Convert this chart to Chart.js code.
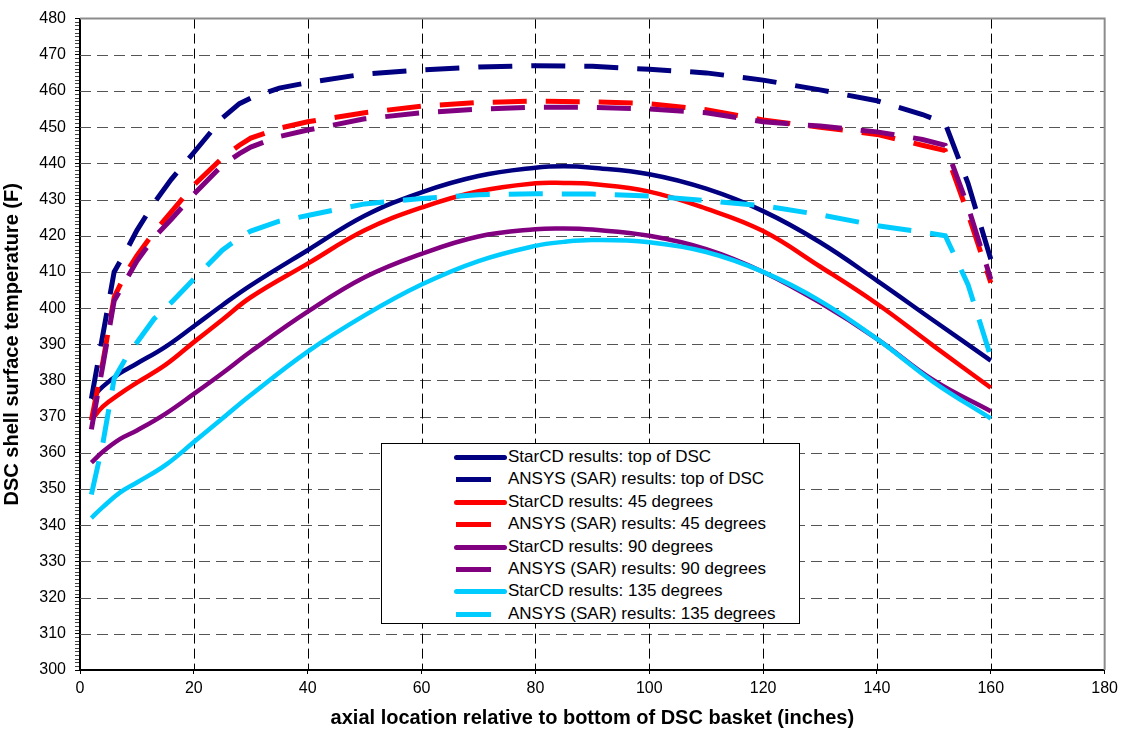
<!DOCTYPE html>
<html>
<head>
<meta charset="utf-8">
<title>DSC shell surface temperature</title>
<script src="https://cdn.jsdelivr.net/npm/chart.js@4.4.0/dist/chart.umd.min.js"></script>
<style>
  html, body { margin: 0; padding: 0; background: #fff; }
  #wrap { position: relative; width: 1123px; height: 734px; }
  #legend {
    position: absolute; left: 381px; top: 443px; width: 419px; height: 181px;
    box-sizing: border-box; border: 1px solid #000; background: #fff;
    font-family: "Liberation Sans", Arial, sans-serif; font-size: 17px; color: #000;
  }
  .item { position: absolute; left: 0; height: 22px; width: 100%; }
  .swatch { position: absolute; top: 9px; height: 5px; }
  .label { position: absolute; left: 126px; top: 1px; white-space: nowrap; line-height: 20px; }
</style>
</head>
<body>
<div id="wrap">
  <canvas id="chart" width="1123" height="734"></canvas>
  <div id="legend"></div>
</div>
<script>
// x positions (inches) for the StarCD curves and the ANSYS curves
const starX = [2, 4, 7, 10, 15, 20, 25, 30, 40, 50, 60, 70, 80, 85, 90, 100, 110, 120, 130, 140, 150, 160];
const ansysX = [2, 4, 6, 8, 10, 13, 16, 20, 25, 28, 30, 35, 40, 50, 60, 70, 80, 90, 100, 110, 120, 130, 140, 148, 152, 156, 160];

// StarCD results (F)
const starTop = [375, 378.3, 382, 384.7, 389.3, 395, 400.8, 406.3, 416, 425.5, 432, 436.5, 438.8, 439.2, 438.8, 437, 433, 426.8, 418.2, 407.6, 396.5, 385.5];
const star45 = [369, 372.8, 376.3, 379.4, 384.3, 390.6, 396.8, 403, 412.3, 421.5, 427.8, 432.3, 434.5, 434.6, 434.3, 432.2, 427.5, 421.3, 411.5, 401.2, 389.5, 378];
const star90 = [357.3, 360.3, 363.8, 366.2, 370.8, 376.3, 382, 388, 399, 408.5, 415, 419.8, 421.8, 422, 421.7, 420, 416.3, 410, 401.5, 391.5, 380, 371.5];
const star135 = [342, 345, 349, 351.8, 356.6, 363, 369.5, 376, 388, 398, 406.5, 413, 417.2, 418.3, 418.8, 418.2, 415.5, 410, 402, 391.5, 379.5, 369.5];

// ANSYS (SAR) results (F)
const ansysTop = [375, 392.5, 410, 415.5, 421.5, 429, 435.5, 443, 452.5, 456.5, 458, 460.8, 462.3, 464.7, 465.8, 466.6, 467, 466.8, 466, 465, 463, 460.3, 457.3, 453.5, 451, 434.5, 413.5];
const ansys45 = [369, 385, 403, 409.5, 414.5, 421, 426.5, 434, 441.5, 445, 447, 449.7, 451.5, 454, 455.8, 456.8, 457.2, 457, 456.5, 454.8, 452, 450, 448, 445, 443.5, 426, 407];
const ansys90 = [366.5, 384, 402, 407.5, 413, 419.5, 424.5, 431.5, 439.5, 442.7, 444.5, 447.4, 449.2, 452.3, 454, 455, 455.5, 455.5, 455, 454, 451.5, 450.3, 448.7, 446.6, 445, 428, 408];
const ansys135 = [348.5, 362.5, 380.5, 386, 390.5, 397, 401.5, 408, 416, 419.5, 421.3, 424, 425.6, 428.8, 430.3, 431.3, 431.6, 431.5, 431, 429.7, 428.3, 425.8, 422.8, 421, 420, 406.5, 386.5];

const seriesLabels = [
  "StarCD results: top of DSC",
  "ANSYS (SAR) results: top of DSC",
  "StarCD results: 45 degrees",
  "ANSYS (SAR) results: 45 degrees",
  "StarCD results: 90 degrees",
  "ANSYS (SAR) results: 90 degrees",
  "StarCD results: 135 degrees",
  "ANSYS (SAR) results: 135 degrees",
];
const seriesColors = ["#000080", "#000080", "#FF0000", "#FF0000", "#800080", "#800080", "#00CCFF", "#00CCFF"];
const seriesValues = [starTop, ansysTop, star45, ansys45, star90, ansys90, star135, ansys135];

const xTitle = "axial location relative to bottom of DSC basket (inches)";
const yTitle = "DSC shell surface temperature (F)";

const FONT = '"Liberation Sans", Arial, sans-serif';

const datasets = seriesValues.map((vals, i) => {
  const dashed = i % 2 === 1;
  const xs = dashed ? ansysX : starX;
  return {
    label: seriesLabels[i],
    data: vals.map((v, k) => ({ x: xs[k], y: v })),
    borderColor: seriesColors[i],
    backgroundColor: seriesColors[i],
    borderWidth: dashed ? 5 : 4.5,
    borderDash: dashed ? [34, 19] : [],
    borderCapStyle: "butt",
    pointRadius: 0,
    fill: false,
    tension: dashed ? 0 : 0.4,
    order: 7 - i,
  };
});

// dashed grid lines plus the gray frame on top and right of the plot area
const plotGrid = {
  id: "plotGrid",
  beforeDatasetsDraw(chart) {
    const { ctx, chartArea: a, scales } = chart;
    ctx.save();
    ctx.lineWidth = 1;
    ctx.strokeStyle = "#555";
    ctx.setLineDash([11, 6]);
    scales.y.ticks.forEach((t) => {
      if (t.value % 10 !== 0 || t.value <= 300 || t.value >= 480) return;
      const py = Math.round(scales.y.getPixelForValue(t.value)) + 0.5;
      ctx.beginPath();
      ctx.moveTo(a.left, py);
      ctx.lineTo(a.right, py);
      ctx.stroke();
    });
    ctx.strokeStyle = "#000";
    ctx.setLineDash([10, 5]);
    scales.x.ticks.forEach((t) => {
      if (t.value <= 0 || t.value >= 180) return;
      const px = Math.round(scales.x.getPixelForValue(t.value)) + 0.5;
      ctx.beginPath();
      ctx.moveTo(px, a.top);
      ctx.lineTo(px, a.bottom);
      ctx.stroke();
    });
    ctx.setLineDash([]);
    ctx.strokeStyle = "#8c8c8c";
    ctx.lineWidth = 2;
    ctx.beginPath();
    ctx.moveTo(a.left, a.top);
    ctx.lineTo(a.right, a.top);
    ctx.lineTo(a.right, a.bottom);
    ctx.stroke();
    ctx.restore();
  },
};

new Chart(document.getElementById("chart"), {
  type: "line",
  data: { datasets },
  plugins: [plotGrid],
  options: {
    responsive: false,
    animation: false,
    layout: { padding: { left: 0, top: 15, right: 18, bottom: 0 } },
    plugins: { legend: { display: false }, tooltip: { enabled: false } },
    scales: {
      x: {
        type: "linear",
        min: 0,
        max: 180,
        ticks: { stepSize: 20, color: "#000", font: { family: FONT, size: 16 }, padding: 5 },
        grid: { drawOnChartArea: false, tickLength: 4, tickColor: "#000" },
        border: { display: true, color: "#000", width: 2 },
        title: { display: true, text: xTitle, color: "#000", font: { family: FONT, size: 20, weight: "bold" }, padding: { top: 4, bottom: 4 } },
        afterFit: (s) => { s.height = 64; },
      },
      y: {
        min: 300,
        max: 480,
        ticks: {
          stepSize: 1,
          autoSkip: false,
          color: "#000",
          font: { family: FONT, size: 16 },
          padding: 9,
          callback: (v) => (v % 10 === 0 ? String(v) : ""),
        },
        grid: {
          drawOnChartArea: false,
          tickLength: 5,
          tickColor: (c) => (c.tick && c.tick.value % 10 === 0 ? "#000" : "#444"),
        },
        border: { display: true, color: "#000", width: 2 },
        title: { display: true, text: yTitle, color: "#000", font: { family: FONT, size: 20, weight: "bold" }, padding: { top: 0, bottom: 4 } },
        afterFit: (s) => { s.width = 80; },
      },
    },
  },
});

// legend box inside the plot, built from the same series
const legend = document.getElementById("legend");
seriesLabels.forEach((label, i) => {
  const dashed = i % 2 === 1;
  const item = document.createElement("div");
  item.className = "item";
  item.style.top = (2 + i * 22.4) + "px";
  const sw = document.createElement("div");
  sw.className = "swatch";
  sw.style.background = seriesColors[i];
  sw.style.left = dashed ? "74px" : "72px";
  sw.style.width = dashed ? "35px" : "53px";
  if (!dashed) sw.style.borderRadius = "3px";
  const tx = document.createElement("div");
  tx.className = "label";
  tx.textContent = label;
  item.appendChild(sw);
  item.appendChild(tx);
  legend.appendChild(item);
});
</script>
</body>
</html>
